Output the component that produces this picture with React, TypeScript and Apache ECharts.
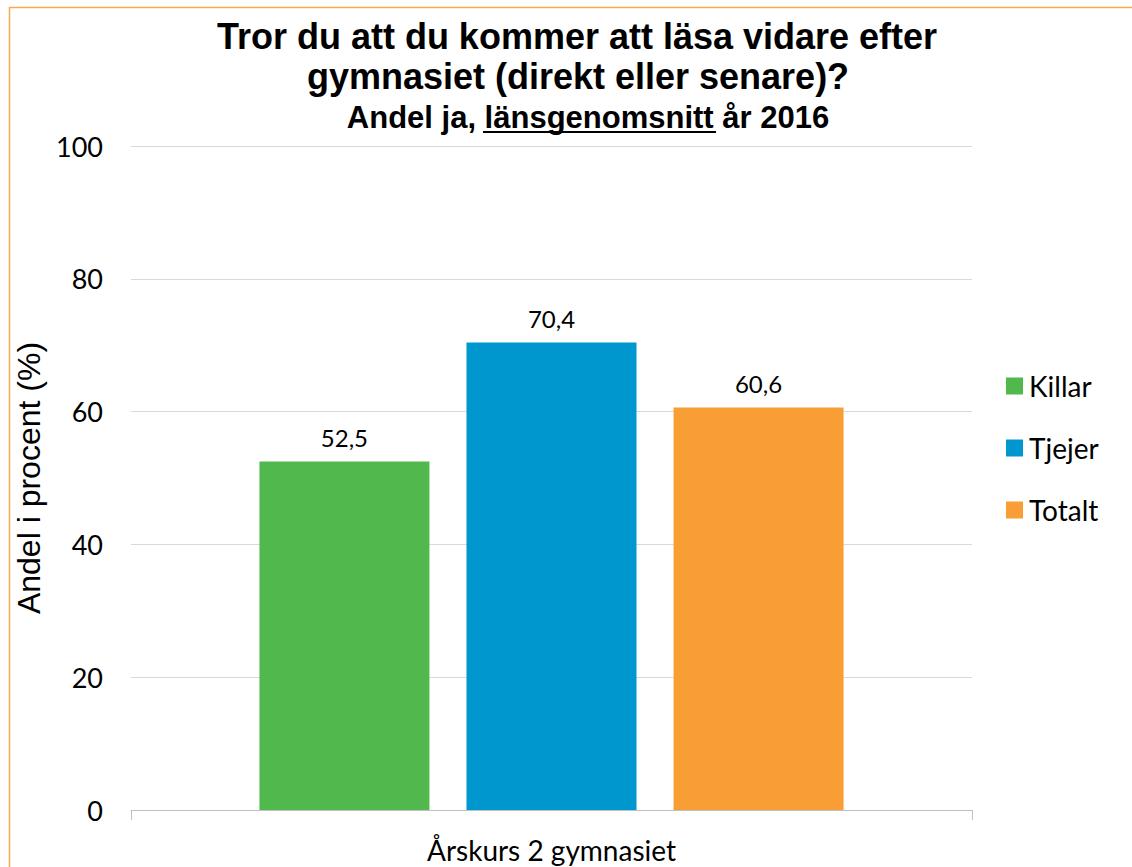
import React, { useEffect, useRef } from "react";
import * as echarts from "echarts";

const categories = ["Årskurs 2 gymnasiet"];
const seriesNames = ["Killar", "Tjejer", "Totalt"];
const killar = [52.5];
const tjejer = [70.4];
const totalt = [60.6];
const colors = ["#51B84D", "#0097CF", "#F99D35"];
const titleLines = ["Tror du att du kommer att läsa vidare efter", "gymnasiet (direkt eller senare)?"];
const subtitle = "Andel ja, länsgenomsnitt år 2016";
const yAxisName = "Andel i procent (%)";

export default function App() {
  const ref = useRef<HTMLDivElement>(null);
  useEffect(() => {
    if (!ref.current) return;
    const chart = echarts.init(ref.current, undefined, { renderer: "svg" });
    const values = [killar, tjejer, totalt];
    const labelFont = "Lato, 'Open Sans', sans-serif";
    const arial = "'Liberation Sans', Arial, sans-serif";
    chart.setOption({
      animation: false,
      backgroundColor: "#ffffff",
      graphic: [
        {
          type: "rect",
          shape: { x: 9.5, y: 7.5, width: 1200, height: 1000 },
          style: { fill: "none", stroke: "#F5A955", lineWidth: 1.5 },
          silent: true,
        },
        {
          type: "text",
          x: 577,
          y: 36,
          style: {
            text: titleLines[0],
            font: `bold 36px ${arial}`,
            fill: "#000",
            align: "center",
            verticalAlign: "middle",
          },
        },
        {
          type: "text",
          x: 578,
          y: 76,
          style: {
            text: titleLines[1],
            font: `bold 36px ${arial}`,
            fill: "#000",
            align: "center",
            verticalAlign: "middle",
          },
        },
        {
          type: "text",
          x: 588,
          y: 117,
          style: {
            text: subtitle,
            font: `bold 31px ${arial}`,
            fill: "#000",
            align: "center",
            verticalAlign: "middle",
          },
        },
        {
          type: "line",
          shape: { x1: 483, y1: 132, x2: 716, y2: 132 },
          style: { stroke: "#000", lineWidth: 2 },
        },
      ],
      legend: {
        orient: "vertical",
        left: 1001,
        top: 366,
        itemWidth: 17,
        itemHeight: 17,
        itemGap: 32,
        icon: "rect",
        data: seriesNames,
        textStyle: { fontFamily: labelFont, fontSize: 28, lineHeight: 30, color: "#000", padding: [0, 0, 0, 1] },
      },
      grid: { left: 131, right: 160, top: 146, bottom: 57, containLabel: false },
      xAxis: {
        type: "category",
        data: categories,
        axisLine: { show: true, lineStyle: { color: "#BFBFBF", width: 1 } },
        axisTick: { show: true, length: 10, lineStyle: { color: "#BFBFBF" } },
        axisLabel: { fontFamily: labelFont, fontSize: 28, lineHeight: 28, color: "#000", margin: 26 },
      },
      yAxis: {
        type: "value",
        min: 0,
        max: 100,
        interval: 20,
        name: yAxisName,
        nameLocation: "middle",
        nameGap: 79,
        nameRotate: 90,
        nameTextStyle: { fontFamily: arial, fontSize: 32, color: "#000" },
        axisLine: { show: false },
        axisTick: { show: false },
        axisLabel: { fontFamily: labelFont, fontSize: 27, color: "#000", margin: 28 },
        splitLine: { lineStyle: { color: "#D9D9D9", width: 1 } },
      },
      series: seriesNames.map((name, i) => ({
        name,
        type: "bar",
        data: values[i],
        barWidth: 170,
        barGap: "21.8%",
        itemStyle: { color: colors[i] },
        label: {
          show: true,
          position: "top",
          distance: 12,
          fontFamily: labelFont,
          fontSize: 24,
          color: "#000",
          formatter: (p: any) => String(p.value.toFixed(1)).replace(".", ","),
        },
      })),
    });
    return () => chart.dispose();
  }, []);
  return (
    <div
      ref={ref}
      style={{ position: "fixed", left: 0, top: 0, width: 1132, height: 867, background: "#fff" }}
    />
  );
}
